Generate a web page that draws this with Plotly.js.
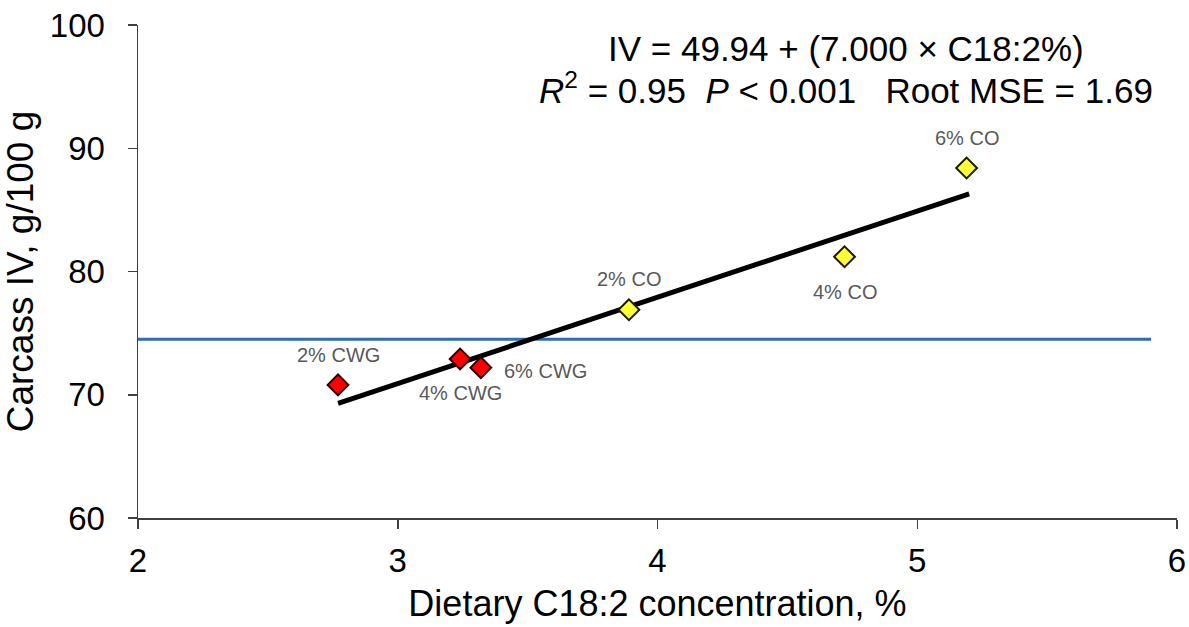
<!DOCTYPE html>
<html>
<head>
<meta charset="utf-8">
<script src="https://cdn.plot.ly/plotly-3.0.1.min.js"></script>
<style>html,body{margin:0;padding:0;background:#fff;}#chart{width:1189px;height:627px;}</style>
</head>
<body>
<div id="chart"></div>
<script>
// Treatments: CWG (red) and CO (yellow)
const cwgLabels = ["2% CWG", "4% CWG", "6% CWG"];
const cwgX = [2.77, 3.24, 3.32];
const cwgY = [70.8, 72.9, 72.2];

const coLabels = ["2% CO", "4% CO", "6% CO"];
const coX = [3.89, 4.72, 5.19];
const coY = [76.9, 81.2, 88.4];

// Regression line endpoints
const regX = [2.77, 5.20];
const regY = [69.3, 86.3];

// Horizontal reference line
const refX = [2, 5.9];
const refY = [74.5, 74.5];

const xTicks = [2, 3, 4, 5, 6];
const yTicks = [60, 70, 80, 90, 100];

const eqLine1 = "IV = 49.94 + (7.000 \u00D7 C18:2%)";
const eqLine2 = "<i>R</i><sup>2</sup> = 0.95\u00A0\u00A0<i>P</i> < 0.001\u00A0\u00A0\u00A0Root MSE = 1.69";

// label placement styles (pixel offsets relative to each point)
const cwgLabelStyle = [
  {xanchor: "center", xshift: 0, yshift: 30},
  {xanchor: "center", xshift: 0, yshift: -34},
  {xanchor: "left", xshift: 21, yshift: -3}
];
const coLabelStyle = [
  {xanchor: "center", xshift: 0, yshift: 31},
  {xanchor: "center", xshift: 0, yshift: -35},
  {xanchor: "center", xshift: 0, yshift: 30}
];

const FONT = "Liberation Sans, Arial, sans-serif";
const labelFont = {family: FONT, size: 20, color: "#595959"};

const traces = [
  {x: refX, y: refY, mode: "lines", line: {color: "#2E6DB0", width: 3}, hoverinfo: "skip"},
  {x: regX, y: regY, mode: "lines", line: {color: "#000000", width: 5}, hoverinfo: "skip"},
  {x: cwgX, y: cwgY, mode: "markers", cliponaxis: false,
   marker: {symbol: "diamond", size: 16, color: "#FF0000", line: {color: "#2a0000", width: 2}}},
  {x: coX, y: coY, mode: "markers", cliponaxis: false,
   marker: {symbol: "diamond", size: 16, color: "#FFFF33", line: {color: "#1a1a00", width: 2}}}
];

const annotations = [];
function addLabels(xs, ys, labels, styles) {
  for (let i = 0; i < xs.length; i++) {
    annotations.push(Object.assign({
      xref: "x", yref: "y", x: xs[i], y: ys[i], text: labels[i], showarrow: false,
      yanchor: "middle", font: labelFont
    }, styles[i]));
  }
}
addLabels(cwgX, cwgY, cwgLabels, cwgLabelStyle);
addLabels(coX, coY, coLabels, coLabelStyle);
annotations.push(
  {xref: "paper", yref: "paper", x: 0.681, y: 1.0, yshift: -23, text: eqLine1, showarrow: false,
   xanchor: "center", yanchor: "middle", font: {family: FONT, size: 35, color: "#000"}},
  {xref: "paper", yref: "paper", x: 0.681, y: 1.0, yshift: -63, text: eqLine2, showarrow: false,
   xanchor: "center", yanchor: "middle", font: {family: FONT, size: 35, color: "#000"}}
);

const layout = {
  width: 1189, height: 627,
  margin: {l: 138, r: 12, t: 25, b: 109},
  paper_bgcolor: "#ffffff", plot_bgcolor: "#ffffff",
  showlegend: false,
  font: {family: FONT, color: "#000"},
  xaxis: {
    range: [2, 6], tickvals: xTicks, ticktext: xTicks.map(String),
    showgrid: false, zeroline: false, showline: true, linecolor: "#404040", linewidth: 1.5,
    ticks: "outside", ticklen: 9, tickwidth: 1.5, tickcolor: "#404040",
    tickfont: {family: FONT, size: 33, color: "#000"}, ticklabelstandoff: 4,
    title: {text: "Dietary C18:2 concentration, %", font: {family: FONT, size: 36, color: "#000"}, standoff: 12},
    automargin: false, fixedrange: true
  },
  yaxis: {
    range: [60, 100], tickvals: yTicks, ticktext: yTicks.map(String),
    showgrid: false, zeroline: false, showline: true, linecolor: "#404040", linewidth: 1.5,
    ticks: "outside", ticklen: 9, tickwidth: 1.5, tickcolor: "#404040",
    tickfont: {family: FONT, size: 33, color: "#000"}, ticklabelstandoff: 16,
    title: {text: "Carcass IV, g/100 g", font: {family: FONT, size: 37, color: "#000"}, standoff: 10},
    automargin: false, fixedrange: true
  },
  annotations: annotations
};

Plotly.newPlot("chart", traces, layout, {staticPlot: true, displayModeBar: false});
</script>
</body>
</html>
